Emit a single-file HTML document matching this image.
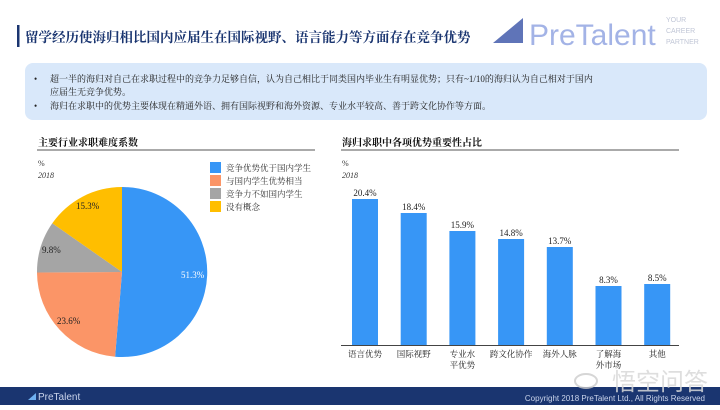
<!DOCTYPE html><html><head><meta charset="utf-8"><style>
body{margin:0;width:720px;height:405px;overflow:hidden;background:#fff;font-family:"Liberation Serif","Noto Serif CJK SC",serif}
</style></head><body>
<svg width="720" height="405" xmlns="http://www.w3.org/2000/svg" font-family="Liberation Serif, Noto Serif CJK SC, serif">
<rect x="17" y="25" width="2.5" height="22" fill="#1a3570"/>
<text x="25" y="42" font-size="13.5" font-weight="bold" fill="#1a3570">留学经历使海归相比国内应届生在国际视野、语言能力等方面存在竞争优势</text>
<polygon points="493,43 523,18 523,43" fill="#5f74b8"/>
<text x="529" y="45" font-family="Liberation Sans, sans-serif" font-size="30" fill="#a3b3e6">PreTalent</text>
<text x="666" y="22" font-family="Liberation Sans, sans-serif" font-size="7" fill="#c0c6d6">YOUR</text>
<text x="666" y="33" font-family="Liberation Sans, sans-serif" font-size="7" fill="#c0c6d6">CAREER</text>
<text x="666" y="44" font-family="Liberation Sans, sans-serif" font-size="7" fill="#c0c6d6">PARTNER</text>
<rect x="25" y="63" width="682" height="57" rx="8" fill="#d9e8fa"/>
<g font-size="9" fill="#222">
<text x="34" y="82">•</text><text x="50" y="82">超一半的海归对自己在求职过程中的竞争力足够自信，认为自己相比于同类国内毕业生有明显优势；只有~1/10的海归认为自己相对于国内</text>
<text x="50" y="95">应届生无竞争优势。</text>
<text x="34" y="109">•</text><text x="50" y="109">海归在求职中的优势主要体现在精通外语、拥有国际视野和海外资源、专业水平较高、善于跨文化协作等方面。</text>
</g>
<text x="38" y="146" font-size="10" font-weight="bold" fill="#111">主要行业求职难度系数</text>
<line x1="37" y1="150" x2="315" y2="150" stroke="#555" stroke-width="1"/>
<text x="38" y="166" font-size="8" fill="#333">%</text>
<text x="38" y="178" font-size="8" font-style="italic" fill="#333">2018</text>
<path d="M122,272 L122,187 A85,85 0 1,1 115.1,356.7 Z" fill="#3796f6"/>
<path d="M122,272 L115.1,356.7 A85,85 0 0,1 37,272.5 Z" fill="#fb9567"/>
<path d="M122,272 L37,272.5 A85,85 0 0,1 52.3,223.3 Z" fill="#a5a5a5"/>
<path d="M122,272 L52.3,223.3 A85,85 0 0,1 122,187 Z" fill="#ffbe00"/>
<g font-size="9">
<text x="181" y="278" fill="#fff">51.3%</text>
<text x="57" y="324" fill="#222">23.6%</text>
<text x="42" y="253" fill="#222">9.8%</text>
<text x="76" y="209" fill="#222">15.3%</text>
</g>
<g font-size="8.5" fill="#333">
<rect x="210" y="162" width="11" height="11" fill="#3796f6"/><text x="226" y="171">竞争优势优于国内学生</text>
<rect x="210" y="175" width="11" height="11" fill="#fb9567"/><text x="226" y="184">与国内学生优势相当</text>
<rect x="210" y="188" width="11" height="11" fill="#a5a5a5"/><text x="226" y="197">竞争力不如国内学生</text>
<rect x="210" y="201" width="11" height="11" fill="#ffbe00"/><text x="226" y="210">没有概念</text>
</g>
<text x="342" y="146" font-size="10" font-weight="bold" fill="#111">海归求职中各项优势重要性占比</text>
<line x1="341" y1="150" x2="679" y2="150" stroke="#555" stroke-width="1"/>
<text x="342" y="166" font-size="8" fill="#333">%</text>
<text x="342" y="178" font-size="8" font-style="italic" fill="#333">2018</text>
<g fill="#3796f6">
<rect x="352" y="199" width="26" height="146"/>
<rect x="400.7" y="213" width="26" height="132"/>
<rect x="449.4" y="231" width="26" height="114"/>
<rect x="498.1" y="239" width="26" height="106"/>
<rect x="546.8" y="247" width="26" height="98"/>
<rect x="595.5" y="286" width="26" height="59"/>
<rect x="644.2" y="284" width="26" height="61"/>
</g>
<line x1="341" y1="345.5" x2="679" y2="345.5" stroke="#444" stroke-width="1"/>
<g font-size="9" fill="#222" text-anchor="middle">
<text x="365" y="196">20.4%</text><text x="413.7" y="210">18.4%</text><text x="462.4" y="228">15.9%</text>
<text x="511.1" y="236">14.8%</text><text x="559.8" y="244">13.7%</text><text x="608.5" y="283">8.3%</text><text x="657.2" y="281">8.5%</text>
<g font-size="8.5">
<text x="365" y="357">语言优势</text><text x="413.7" y="357">国际视野</text>
<text x="462.4" y="357">专业水</text><text x="462.4" y="368">平优势</text>
<text x="511.1" y="357">跨文化协作</text><text x="559.8" y="357">海外人脉</text>
<text x="608.5" y="357">了解海</text><text x="608.5" y="368">外市场</text><text x="657.2" y="357">其他</text>
</g></g>
<rect x="0" y="387" width="720" height="18" fill="#1a3570"/>
<polygon points="28,400 36,393 36,400" fill="#6fb0f0"/>
<text x="38" y="400" font-family="Liberation Sans, sans-serif" font-size="10" fill="#c9d3ea">PreTalent</text>
<text x="705" y="401" text-anchor="end" font-family="Liberation Sans, sans-serif" font-size="8" fill="#c9d3ea">Copyright 2018 PreTalent Ltd., All Rights Reserved</text>
<ellipse cx="586" cy="381" rx="11" ry="7" fill="none" stroke="#ccc" stroke-width="2" opacity="0.8"/>
<text x="612" y="390" font-family="Liberation Sans, Noto Sans CJK SC, sans-serif" font-size="24" fill="#d8d8d8" fill-opacity="0.85">悟空问答</text>
</svg>
</body></html>
